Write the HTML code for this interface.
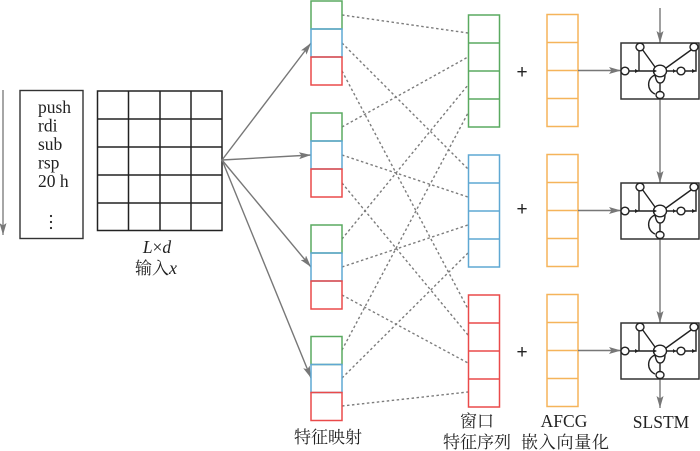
<!DOCTYPE html>
<html><head><meta charset="utf-8"><style>
html,body{margin:0;padding:0;background:#fff}
svg{display:block}
text{font-family:"Liberation Serif","Noto Serif CJK SC",serif;fill:#222;font-size:17.5px}
.cjk{font-size:17px}
</style></head><body>
<svg width="700" height="451" viewBox="0 0 700 451" xmlns="http://www.w3.org/2000/svg">
<defs>
<marker id="a" viewBox="0 0 12 7" refX="12" refY="3.500" markerWidth="12" markerHeight="7" markerUnits="userSpaceOnUse" orient="auto"><path d="M0 0L12 3.500L0 7L2.500 3.500z" fill="#777"/></marker>
<g id="cell">
<rect x="0" y="0" width="78" height="56" fill="#fff" stroke="#333" stroke-width="1.500"/>
<g fill="none" stroke="#222" stroke-width="1.400">
<path d="M4 28H75V7M18 7V28"/>
<path d="M21 6L34 24M70 7L45 25"/>
<path d="M34 32C26 35 25 47 34 51M34 32C35 37 36 40 39 40C42 40 44 37 44 32M39 40V49"/>
<ellipse cx="4" cy="28" rx="4" ry="3.800" fill="#fff"/>
<ellipse cx="19" cy="4" rx="4" ry="3.800" fill="#fff"/>
<ellipse cx="73" cy="4" rx="4" ry="3.800" fill="#fff"/>
<ellipse cx="39" cy="28" rx="6.500" ry="5.800" fill="#fff"/>
<ellipse cx="60" cy="28" rx="4" ry="3.800" fill="#fff"/>
<ellipse cx="39" cy="52" rx="4" ry="3.500" fill="#fff"/>
</g>
<path d="M14 26L18 28L14 30zM32 26L36 28L32 30zM52 26L55 28L52 30zM71 26L75 28L71 30z" fill="#222"/>
</g>
</defs>

<line x1="3" y1="90" x2="3" y2="235" stroke="#777" stroke-width="1.300" marker-end="url(#a)"/>
<rect x="20" y="90.500" width="63" height="148" fill="#fff" stroke="#333" stroke-width="1.400"/>
<text x="38" y="113">push</text>
<text x="38" y="131.500">rdi</text>
<text x="38" y="150">sub</text>
<text x="38" y="168.500">rsp</text>
<text x="38" y="187">20 h</text>
<g fill="#222"><circle cx="51" cy="216" r="1.100"/><circle cx="51" cy="222" r="1.100"/><circle cx="51" cy="228" r="1.100"/></g>

<g fill="none" stroke="#222" stroke-width="1.500">
<rect x="97.500" y="91" width="124.500" height="139.500"/>
<path d="M128.500 91V230.500M160 91V230.500M191 91V230.500M97.500 119H222M97.500 147H222M97.500 175H222M97.500 203H222"/>
</g>
<text x="157" y="253" text-anchor="middle"><tspan font-style="italic">L</tspan>×<tspan font-style="italic">d</tspan></text>
<text x="135" y="274" class="cjk">输入<tspan font-style="italic" font-size="18">x</tspan></text>

<g stroke="#777" stroke-width="1.400">
<line x1="222" y1="160" x2="311" y2="43" marker-end="url(#a)"/>
<line x1="222" y1="160" x2="311" y2="155" marker-end="url(#a)"/>
<line x1="222" y1="160" x2="311" y2="267" marker-end="url(#a)"/>
<line x1="222" y1="160" x2="311" y2="378" marker-end="url(#a)"/>
</g>

<g fill="none" stroke="#7c7c7c" stroke-width="1.400" stroke-dasharray="2.500 2.500">
<path d="M342 15L468 33M342 127L468 57M342 239L468 85M342 350L468 113"/>
<path d="M342 43L468 169M342 155L468 197M342 267L468 225M342 378L468 253"/>
<path d="M342 71L468 309M342 183L468 335M342 295L468 363M342 406L468 392"/>
</g>

<g fill="none" stroke-width="1.500">
<g><rect x="311" y="1" width="31" height="28" stroke="#5aaa60"/><rect x="311" y="29" width="31" height="28" stroke="#5fa8d3"/><rect x="311" y="57" width="31" height="28" stroke="#ea4a4a"/></g>
<g><rect x="311" y="113" width="31" height="28" stroke="#5aaa60"/><rect x="311" y="141" width="31" height="28" stroke="#5fa8d3"/><rect x="311" y="169" width="31" height="28" stroke="#ea4a4a"/></g>
<g><rect x="311" y="225" width="31" height="28" stroke="#5aaa60"/><rect x="311" y="253" width="31" height="28" stroke="#5fa8d3"/><rect x="311" y="281" width="31" height="28" stroke="#ea4a4a"/></g>
<g><rect x="311" y="336.500" width="31" height="28" stroke="#5aaa60"/><rect x="311" y="364.500" width="31" height="28" stroke="#5fa8d3"/><rect x="311" y="392.500" width="31" height="28" stroke="#ea4a4a"/></g>

<g stroke="#5aaa60"><rect x="468.500" y="15" width="31" height="112"/><path d="M468.500 43H499.500M468.500 71H499.500M468.500 99H499.500"/></g>
<g stroke="#5fa8d3"><rect x="468.500" y="155" width="31" height="112"/><path d="M468.500 183H499.500M468.500 211H499.500M468.500 239H499.500"/></g>
<g stroke="#ea4a4a"><rect x="468.500" y="295" width="31" height="112"/><path d="M468.500 323H499.500M468.500 351H499.500M468.500 379H499.500"/></g>

<g stroke="#f5b45a"><rect x="547" y="14.500" width="31" height="112"/><path d="M547 42.500H578M547 70.500H578M547 98.500H578"/></g>
<g stroke="#f5b45a"><rect x="547" y="154.500" width="31" height="112"/><path d="M547 182.500H578M547 210.500H578M547 238.500H578"/></g>
<g stroke="#f5b45a"><rect x="547" y="294.500" width="31" height="112"/><path d="M547 322.500H578M547 350.500H578M547 378.500H578"/></g>
</g>

<g style="font-size:19px;font-family:'Liberation Sans',sans-serif" text-anchor="middle">
<text x="522" y="78" style="font-size:19px;font-family:'Liberation Sans',sans-serif">+</text>
<text x="522" y="215" style="font-size:19px;font-family:'Liberation Sans',sans-serif">+</text>
<text x="522" y="358" style="font-size:19px;font-family:'Liberation Sans',sans-serif">+</text>
</g>

<g stroke="#777" stroke-width="1.400">
<line x1="660" y1="8" x2="660" y2="43" marker-end="url(#a)"/>
<line x1="660" y1="99" x2="660" y2="183" marker-end="url(#a)"/>
<line x1="660" y1="239" x2="660" y2="323" marker-end="url(#a)"/>
<line x1="660" y1="379" x2="660" y2="408" marker-end="url(#a)"/>
<line x1="578" y1="70.500" x2="621" y2="70.500" marker-end="url(#a)"/>
<line x1="578" y1="210.500" x2="621" y2="210.500" marker-end="url(#a)"/>
<line x1="578" y1="350.500" x2="621" y2="350.500" marker-end="url(#a)"/>
</g>

<use href="#cell" x="621" y="43"/>
<use href="#cell" x="621" y="183"/>
<use href="#cell" x="621" y="323"/>

<text x="294" y="443" class="cjk">特征映射</text>
<text x="477" y="427" class="cjk" text-anchor="middle">窗口</text>
<text x="443" y="448" class="cjk">特征序列</text>
<text x="564" y="427" text-anchor="middle">AFCG</text>
<text x="521" y="448" class="cjk" textLength="88">嵌入向量化</text>
<text x="661" y="428" text-anchor="middle">SLSTM</text>
</svg>
</body></html>
